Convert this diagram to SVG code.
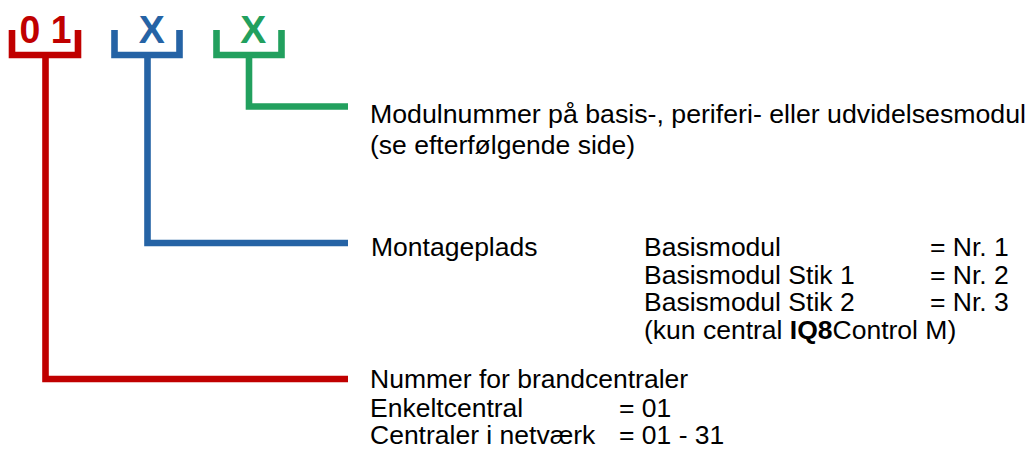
<svg xmlns="http://www.w3.org/2000/svg" width="1030" height="450" viewBox="0 0 1030 450">
  <style>
    .t { font-family: "Liberation Sans", Arial, sans-serif; font-size: 26.5px; fill: #000; }
    .code { font-family: "Liberation Sans", Arial, sans-serif; font-weight: bold; font-size: 39px; }
    .ln { fill: none; stroke-width: 6.6; stroke-linecap: butt; stroke-linejoin: miter; }
    .red { stroke: #C00000; }
    .blue { stroke: #2563A5; }
    .green { stroke: #22A05E; }
  </style>
  <rect width="1030" height="450" fill="#fff"/>

  <g id="code-panel">
    <path class="ln red" d="M12,30 V55 H78 V30"/>
    <text class="code" x="19.5" y="43" fill="#C00000" textLength="52" lengthAdjust="spacingAndGlyphs">0 1</text>
  </g>
  <g id="code-slot">
    <path class="ln blue" d="M114.5,30 V55 H179.5 V30"/>
    <text class="code" x="151.7" y="43" fill="#2563A5" text-anchor="middle">X</text>
  </g>
  <g id="code-module">
    <path class="ln green" d="M216.5,30 V55 H281.5 V30"/>
    <text class="code" x="253.3" y="43" fill="#22A05E" text-anchor="middle">X</text>
  </g>

  <g id="connectors">
    <path class="ln green" d="M249,55 V106.5 H348"/>
    <path class="ln blue" d="M147.5,55 V243 H348"/>
    <path class="ln red" d="M45.5,55 V379 H348"/>
  </g>

  <g id="module-text">
    <text class="t" x="370" y="123.3" textLength="656" lengthAdjust="spacingAndGlyphs">Modulnummer på basis-, periferi- eller udvidelsesmodul</text>
    <text class="t" x="370" y="154.3">(se efterfølgende side)</text>
  </g>

  <g id="slot-text">
    <text class="t" x="371" y="256">Montageplads</text>
    <text class="t" x="644" y="256">Basismodul</text>
    <text class="t" x="930" y="256">= Nr. 1</text>
    <text class="t" x="644" y="283.5">Basismodul Stik 1</text>
    <text class="t" x="930" y="283.5">= Nr. 2</text>
    <text class="t" x="644" y="311">Basismodul Stik 2</text>
    <text class="t" x="930" y="311">= Nr. 3</text>
    <text class="t" x="644" y="338.5">(kun central <tspan font-weight="bold">IQ8</tspan>Control M)</text>
  </g>

  <g id="panel-text">
    <text class="t" x="370" y="388">Nummer for brandcentraler</text>
    <text class="t" x="370" y="416.5">Enkeltcentral</text>
    <text class="t" x="619" y="416.5">= 01</text>
    <text class="t" x="370" y="444">Centraler i netværk</text>
    <text class="t" x="619" y="444">= 01 - 31</text>
  </g>
</svg>
